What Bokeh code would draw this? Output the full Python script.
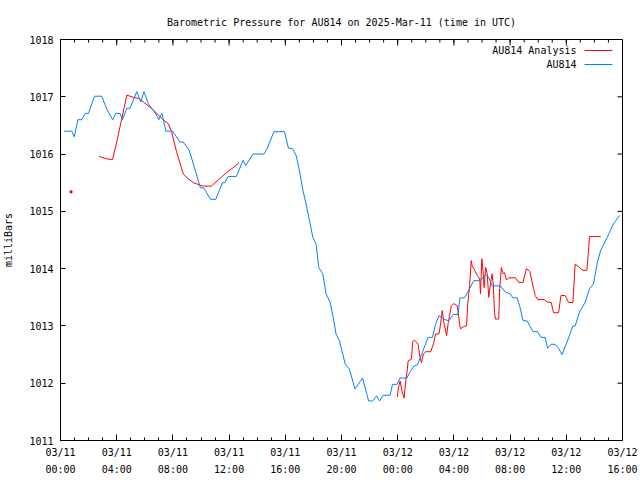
import numpy as np
from bokeh.plotting import figure
from bokeh.models import FixedTicker, Label, Arrow
from bokeh.embed import file_html
from bokeh.resources import INLINE

# Hours since 2025-03-11 00:00 UTC
X_START, X_END = 0, 40
Y_START, Y_END = 1011, 1018
tick_hours = [0, 4, 8, 12, 16, 20, 24, 28, 32, 36, 40]
minor_hours = list(range(0, 41))
tick_labels = ["03/11\n00:00", "03/11\n04:00", "03/11\n08:00", "03/11\n12:00",
               "03/11\n16:00", "03/11\n20:00", "03/12\n00:00", "03/12\n04:00",
               "03/12\n08:00", "03/12\n12:00", "03/12\n16:00"]
y_ticks = [1011, 1012, 1013, 1014, 1015, 1016, 1017, 1018]
series_names = ["AU814 Analysis", "AU814"]

# AU814 observed pressure
obs_hours = [0.25, 0.8, 0.98, 1.24, 1.52, 1.74, 1.99, 2.42, 2.94, 3.30, 3.72, 3.94, 4.24, 4.41,
             4.72, 4.95, 5.43, 5.71, 5.94, 6.25, 6.84, 7.00, 7.22, 7.50, 7.98, 8.50, 8.73, 9.16,
             9.96, 10.20, 10.67, 11.05, 11.52, 11.70, 11.93, 12.52, 13.00, 13.18, 13.70, 14.48,
             14.72, 15.19, 15.94, 16.23, 16.50, 16.77, 17.00, 17.25, 17.48, 17.72, 17.96, 18.19,
             18.38, 18.67, 18.90, 19.20, 19.45, 19.61, 19.85, 20.09, 20.27, 20.56, 20.96, 21.50,
             21.93, 22.21, 22.50, 22.71, 22.97, 23.46, 23.63, 23.94, 24.17, 24.65, 24.88, 25.16,
             25.40, 25.70, 26.16, 26.47, 26.70, 26.94, 27.25, 27.64, 27.96, 28.30, 28.43, 28.76,
             29.07, 29.42, 29.89, 30.25, 30.45, 30.72, 31.31, 31.67, 32.00, 32.20, 32.50, 32.68,
             32.92, 33.20, 33.63, 33.95, 34.20, 34.50, 34.67, 34.91, 35.20, 35.45, 35.69, 36.04,
             36.47, 36.63, 36.94, 37.34, 37.65, 37.93, 38.21, 38.45, 38.92, 39.35, 39.80]
obs_mbar = [1016.40, 1016.40, 1016.30, 1016.60, 1016.60, 1016.71, 1016.71, 1017.01, 1017.01,
            1016.78, 1016.60, 1016.71, 1016.71, 1016.60, 1016.80, 1016.80, 1017.09, 1016.91,
            1017.09, 1016.88, 1016.68, 1016.60, 1016.71, 1016.40, 1016.40, 1016.21, 1016.21,
            1016.07, 1015.41, 1015.41, 1015.21, 1015.21, 1015.50, 1015.50, 1015.61, 1015.61,
            1015.89, 1015.80, 1016.00, 1016.00, 1016.10, 1016.39, 1016.39, 1016.10, 1016.10,
            1015.98, 1015.72, 1015.37, 1015.13, 1014.84, 1014.55, 1014.43, 1014.02, 1013.91,
            1013.56, 1013.41, 1013.09, 1012.86, 1012.74, 1012.51, 1012.33, 1012.25, 1011.90,
            1012.09, 1011.69, 1011.69, 1011.78, 1011.69, 1011.79, 1011.79, 1011.98, 1011.98,
            1012.09, 1012.09, 1012.20, 1012.30, 1012.32, 1012.50, 1012.80, 1012.80, 1013.03,
            1013.18, 1013.12, 1013.09, 1013.20, 1013.20, 1013.49, 1013.49, 1013.63, 1013.79,
            1013.79, 1013.90, 1013.86, 1013.70, 1013.70, 1013.59, 1013.56, 1013.49, 1013.49,
            1013.35, 1013.09, 1013.09, 1012.90, 1012.90, 1012.80, 1012.80, 1012.61, 1012.68,
            1012.68, 1012.61, 1012.50, 1012.71, 1013.00, 1013.00, 1013.24, 1013.41, 1013.65,
            1013.73, 1014.11, 1014.32, 1014.55, 1014.78, 1014.93]

# AU814 Analysis (two runs, NaN = gap)
ana_hours = [2.75, 3.25, 3.70, 4.00, 4.31, 4.72, 5.19, 5.55, 5.90, 6.61, 7.20, 7.67, 7.91, 8.26,
             8.74, 9.09, 9.45, 10.16, 10.74, 11.33, 11.93, 12.28, 12.71,
             np.nan,
             23.98, 24.05, 24.17, 24.27, 24.45, 24.60, 24.69, 24.74, 24.98, 25.07, 25.21, 25.45,
             25.59, 25.69, 25.83, 26.00, 26.35, 26.55, 26.70, 26.94, 27.05, 27.17, 27.29, 27.48,
             27.60, 27.72, 27.81, 28.00, 28.24, 28.43, 28.48, 28.71, 28.90, 28.99, 29.13, 29.23,
             29.30, 29.42, 29.66, 29.84, 29.89, 29.99, 30.08, 30.15, 30.26, 30.37, 30.48, 30.60,
             30.72, 30.80, 30.89, 30.96, 31.19, 31.26, 31.38, 31.50, 31.60, 31.74, 31.90, 32.38,
             32.61, 32.92, 33.16, 33.40, 33.67, 33.79, 33.96, 34.43, 34.62, 34.93, 35.09, 35.45,
             35.62, 35.92, 36.16, 36.47, 36.63, 36.94, 37.18, 37.46, 37.57, 37.65, 38.45]
ana_mbar = [1015.96, 1015.92, 1015.90, 1016.21, 1016.56, 1017.03, 1016.99, 1016.97, 1016.91,
            1016.77, 1016.62, 1016.53, 1016.39, 1016.04, 1015.65, 1015.57, 1015.50, 1015.44,
            1015.44, 1015.57, 1015.70, 1015.76, 1015.85,
            np.nan,
            1011.76, 1011.92, 1012.04, 1011.90, 1011.74, 1012.09, 1012.25, 1012.39, 1012.42,
            1012.73, 1012.75, 1012.68, 1012.45, 1012.36, 1012.51, 1012.55, 1012.55, 1012.69,
            1012.86, 1012.86, 1013.03, 1013.27, 1013.06, 1012.83, 1013.06, 1013.21, 1013.35,
            1013.39, 1013.35, 1012.99, 1012.95, 1012.99, 1013.00, 1013.39, 1013.73, 1014.14,
            1014.05, 1014.00, 1013.88, 1013.82, 1013.56, 1014.17, 1013.95, 1013.67, 1014.02,
            1013.91, 1013.50, 1013.73, 1013.91, 1013.73, 1013.24, 1013.12, 1013.12, 1013.65,
            1014.02, 1013.91, 1013.93, 1013.80, 1013.84, 1013.84, 1013.76, 1013.76, 1014.00,
            1013.95, 1013.65, 1013.53, 1013.46, 1013.46, 1013.42, 1013.41, 1013.23, 1013.23,
            1013.53, 1013.53, 1013.41, 1013.41, 1014.08, 1014.02, 1013.97, 1013.97, 1014.27,
            1014.56, 1014.56]
ana_single_hours = [0.75]
ana_single_mbar = [1015.34]

FONT = "DejaVu Sans Mono"
FS = "10px"
RED = "#ff0000"
BLUE = "#0080ff"
series_colors = [RED, BLUE]

p = figure(width=640, height=480, x_range=(X_START, X_END), y_range=(Y_START, Y_END),
           output_backend="svg", toolbar_location=None,
           min_border_left=58, min_border_right=18, min_border_top=39, min_border_bottom=40,
           title="Barometric Pressure for AU814 on 2025-Mar-11 (time in UTC)")
p.grid.visible = False
p.outline_line_color = "black"
p.outline_line_width = 1
p.background_fill_color = "white"
p.border_fill_color = "white"

p.title.align = "center"
p.title.text_font = FONT
p.title.text_font_size = FS
p.title.text_font_style = "normal"
p.title.text_color = "black"
p.title.standoff = 23


def style(ax):
    ax.axis_line_color = "black"
    ax.major_tick_in = 6
    ax.major_tick_out = 0
    ax.minor_tick_in = 3
    ax.minor_tick_out = 0
    ax.major_tick_line_color = "black"
    ax.minor_tick_line_color = "black"
    ax.major_label_text_font = FONT
    ax.major_label_text_font_size = FS
    ax.major_label_text_color = "black"


xa = p.xaxis[0]
xa.ticker = FixedTicker(ticks=tick_hours, minor_ticks=minor_hours)
style(xa)
xa.major_label_overrides = {h: lab for h, lab in zip(tick_hours, tick_labels)}
xa.major_label_text_line_height = 1.55
xa.major_label_standoff = 6

ya = p.yaxis[0]
ya.ticker = FixedTicker(ticks=y_ticks, minor_ticks=[])
style(ya)
ya.major_tick_in = 5
ya.major_label_standoff = 7
ya.axis_label = "milliBars"
ya.axis_label_text_font = FONT
ya.axis_label_text_font_size = FS
ya.axis_label_text_font_style = "normal"
ya.axis_label_text_color = "black"
ya.axis_label_standoff = 12

# mirrored inward ticks on the top and right frame edges (clipped to the frame)
p.scatter(minor_hours, [Y_END] * len(minor_hours), marker="dash", angle=np.pi / 2,
          size=6, line_color="black", line_width=1)
p.scatter(tick_hours, [Y_END] * len(tick_hours), marker="dash", angle=np.pi / 2,
          size=12, line_color="black", line_width=1)
p.scatter([X_END] * len(y_ticks), y_ticks, marker="dash", size=10,
          line_color="black", line_width=1)

p.line(ana_hours, ana_mbar, line_color=RED, line_width=1)
p.scatter(ana_single_hours, ana_single_mbar, marker="square", size=2,
          fill_color=RED, line_color=RED)
p.line(obs_hours, obs_mbar, line_color=BLUE, line_width=1)

# gnuplot-style key: right-aligned text followed by a line sample (screen units, frame-relative)
for i, (name, col) in enumerate(zip(series_names, series_colors)):
    ky = 390 - 14 * i
    p.add_layout(Label(x=516, y=ky, x_units="screen", y_units="screen", text=name,
                       text_align="right", text_baseline="middle",
                       text_font=FONT, text_font_size=FS, text_color="black"))
    p.add_layout(Arrow(x_start=524, y_start=ky, x_end=552, y_end=ky,
                       start_units="screen", end_units="screen",
                       start=None, end=None, line_color=col, line_width=1))

open("out.html", "w").write(file_html(p, INLINE))
